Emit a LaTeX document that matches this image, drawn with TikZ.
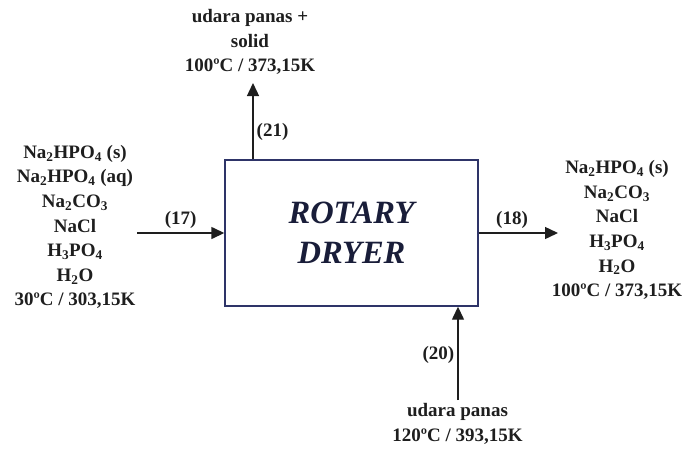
\documentclass[tikz,border=0pt]{standalone}
\usepackage{fontspec}
\setmainfont{Liberation Serif}
\usepackage{tikz}
\usetikzlibrary{arrows.meta,positioning,calc}
\definecolor{DryerNavy}{HTML}{2E3468}
\definecolor{InkGray}{HTML}{1E1E1E}
\newcommand{\chemsub}[1]{\textsubscript{#1}}

\begin{document}
\begin{tikzpicture}[
  x=1pt, y=-1pt,
  unit/.style={draw=DryerNavy, line width=1.4pt, minimum width=253pt, minimum height=146pt, align=center, text=DryerNavy!55!black, font=\fontsize{32.5}{40}\selectfont\bfseries\itshape},
  stream/.style={align=center, inner sep=2pt, text=InkGray, font=\fontsize{19}{24.6}\selectfont\bfseries},
  tag/.style={text=InkGray, font=\fontsize{19}{23}\selectfont\bfseries, inner sep=2pt},
  arr/.style={-{Triangle[length=13pt,width=12pt]}, line width=1.4pt, draw=InkGray}
]
\useasboundingbox (0,0) rectangle (688,448);
\node[unit] (dryer) at (351.5,233) {ROTARY\\DRYER};
\node[stream] (feed) at (75,227) {Na\chemsub{2}HPO\chemsub{4} (s)\\Na\chemsub{2}HPO\chemsub{4} (aq)\\Na\chemsub{2}CO\chemsub{3}\\NaCl\\H\chemsub{3}PO\chemsub{4}\\H\chemsub{2}O\\30ºC / 303,15K};
\node[stream] (product) at (617,230) {Na\chemsub{2}HPO\chemsub{4} (s)\\Na\chemsub{2}CO\chemsub{3}\\NaCl\\H\chemsub{3}PO\chemsub{4}\\H\chemsub{2}O\\100ºC / 373,15K};
\node[stream] (vapour) at (250,42) {udara panas +\\solid\\100ºC / 373,15K};
\node[stream] (air) at (457.5,424) {udara panas\\120ºC / 393,15K};
\coordinate (in17) at (137,233);
\coordinate (out18) at (558,233);
\coordinate (top21) at (253,83);
\coordinate (bot20) at (458,400);
\draw[arr] (in17) -- (dryer.west) node[tag, midway, above=2pt] (s17) {(17)};
\draw[arr] (dryer.east) -- (out18) node[tag, pos=0.42, above=2pt] (s18) {(18)};
\draw[arr] (top21 |- dryer.north) -- (top21) node[tag, pos=0.36, right=1pt] (s21) {(21)};
\draw[arr] (bot20) -- (bot20 |- dryer.south) node[tag, pos=0.48, left=1pt] (s20) {(20)};
\end{tikzpicture}
\end{document}
